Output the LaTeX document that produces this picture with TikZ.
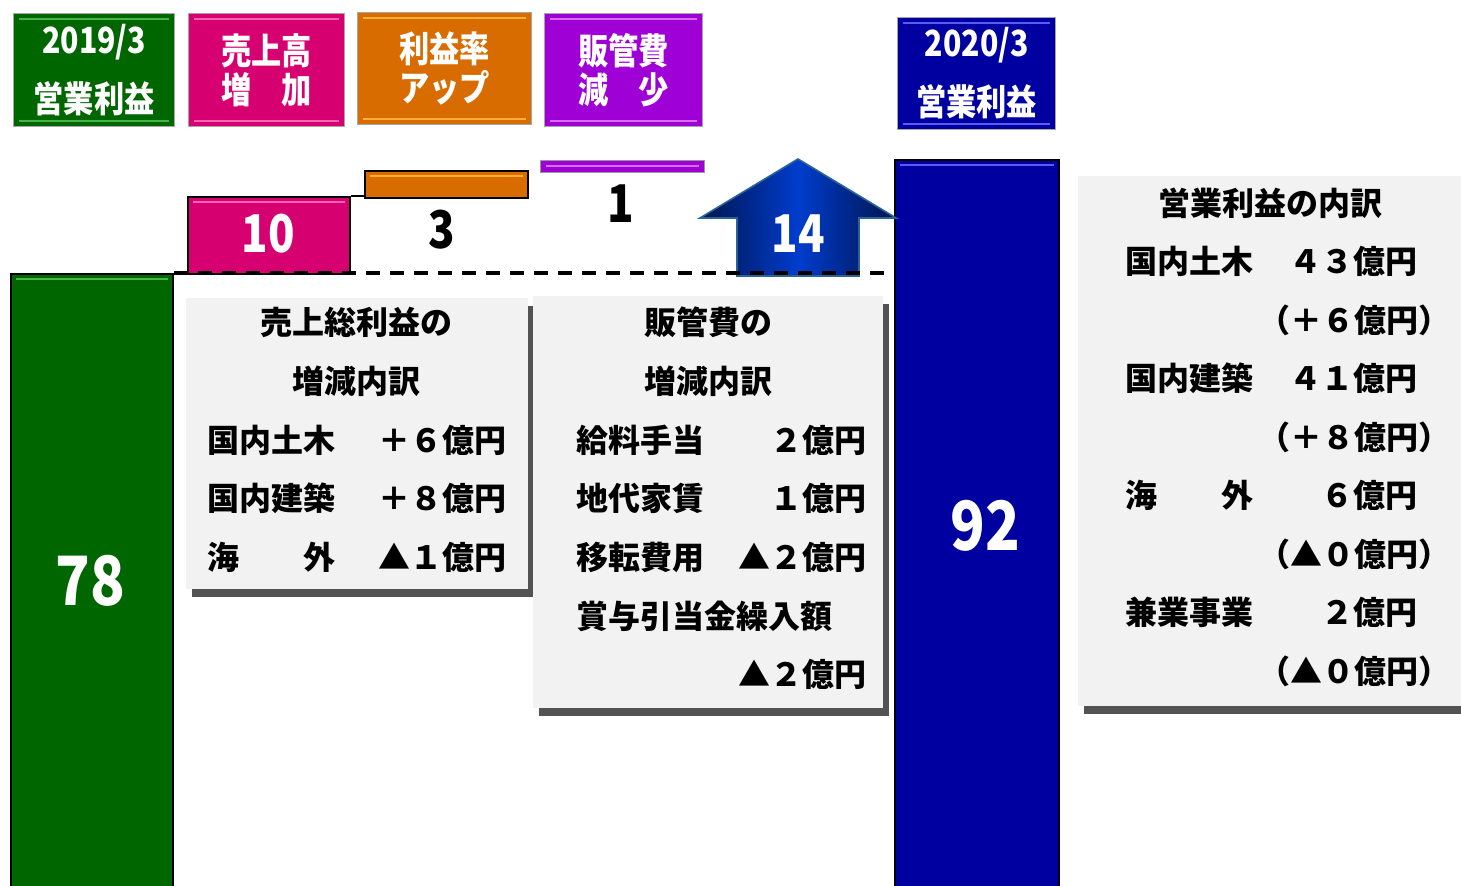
\documentclass[tikz,border=0pt]{standalone}
\usepackage{fontspec}
\setmainfont{Noto Sans CJK JP}
\newfontfamily\narrowjp{Noto Sans CJK JP}[FakeStretch=0.84]
\usetikzlibrary{shadows}

\definecolor{opgreen}{RGB}{0,102,0}
\definecolor{opgreenhi}{RGB}{70,180,70}
\definecolor{salesmag}{RGB}{214,0,112}
\definecolor{salesmaghi}{RGB}{250,100,180}
\definecolor{rateorange}{RGB}{216,108,0}
\definecolor{rateorangehi}{RGB}{255,175,60}
\definecolor{sgapurple}{RGB}{158,0,214}
\definecolor{sgapurplehi}{RGB}{215,110,250}
\definecolor{opblue}{RGB}{0,0,160}
\definecolor{opbluehi}{RGB}{90,90,245}
\definecolor{panelgray}{RGB}{242,242,242}
\definecolor{arrowdark}{RGB}{0,20,75}
\definecolor{arrowmid}{RGB}{0,60,205}
\definecolor{arrowedge}{RGB}{40,100,150}

\begin{document}
\begin{tikzpicture}[x=0.5pt,y=-0.5pt,
    bar/.style={draw=black, line width=1pt, inner sep=0pt, anchor=north west},
    head/.style={draw=black!35, line width=0.6pt, inner sep=0pt, anchor=north west,
                 align=center, text=white, font=\narrowjp\bfseries\fontsize{18}{19.5}\selectfont},
    panel/.style={fill=panelgray, inner sep=0pt, anchor=north west,
                  drop shadow={shadow xshift=3pt, shadow yshift=-4pt, fill=black!75, opacity=.9}},
    cell/.style={inner sep=0pt, text height=12pt, text depth=0pt, font=\bfseries\fontsize{16}{16}\selectfont},
    bignum/.style={inner sep=0pt, text=white, font=\narrowjp\bfseries\fontsize{34}{34}\selectfont},
    midnum/.style={inner sep=0pt, font=\narrowjp\bfseries\fontsize{26}{26}\selectfont},
    levelline/.style={line width=2pt, dash pattern=on 7pt off 5pt}
  ]
  \useasboundingbox (0,0) rectangle (1461,886);

  % headers
  \node[head, fill=opgreen, minimum width=80.5pt, minimum height=56.5pt] (h19) at (13,13) {2019/3\\[10pt]営業利益};
  \node[head, fill=salesmag, minimum width=78pt, minimum height=56.5pt] (hsales) at (188,13) {売上高\\増　加};
  \node[head, fill=rateorange, minimum width=87pt, minimum height=56pt] (hrate) at (357,12) {利益率\\アップ};
  \node[head, fill=sgapurple, minimum width=79pt, minimum height=56.5pt] (hsga) at (544,13) {販管費\\減　少};
  \node[head, fill=opblue, minimum width=79pt, minimum height=56pt] (h20) at (897,17) {2020/3\\[10pt]営業利益};

  % breakdown panels
  \node[panel, minimum width=171pt, minimum height=145.5pt] (p1) at (186,298) {};
  \node[panel, minimum width=175pt, minimum height=206pt] (p2) at (533,296) {};
  \node[panel, minimum width=200pt, minimum height=265pt] (p3) at (1078,176) {};

  % bars
  \node[bar, fill=opgreen, minimum width=81pt, minimum height=313.5pt] (bar78) at (10,273) {};
  \node[bar, fill=salesmag, minimum width=81pt, minimum height=38.5pt] (bar10) at (187,196) {};
  \node[bar, fill=rateorange, minimum width=81.5pt, minimum height=13.5pt] (bar3) at (364,170) {};
  \node[bar, draw=black!40, line width=0.5pt, fill=sgapurple, minimum width=82pt, minimum height=6pt] (bar1) at (540,160) {};
  \node[bar, fill=opblue, minimum width=82pt, minimum height=370.5pt] (bar92) at (894,159) {};

  \foreach \n/\c in {h19/opgreenhi, hsales/salesmaghi, hrate/rateorangehi, hsga/sgapurplehi, h20/opbluehi,
                     bar78/opgreenhi, bar10/salesmaghi, bar3/rateorangehi, bar92/opbluehi}
    \draw[\c, line width=1.2pt] ([xshift=3pt,yshift=-3pt]\n.north west) -- ([xshift=-3pt,yshift=-3pt]\n.north east);
  \foreach \n/\c in {h19/opgreenhi, hsales/salesmaghi, hrate/rateorangehi, hsga/sgapurplehi, h20/opbluehi}
    \draw[\c, line width=1.2pt] ([xshift=3pt,yshift=3pt]\n.south west) -- ([xshift=-3pt,yshift=3pt]\n.south east);
  \draw[sgapurplehi, line width=1pt] ([xshift=3pt]bar1.west) -- ([xshift=-3pt]bar1.east);

  % arrow
  \coordinate (tip) at (798,159);
  \draw[arrowedge, line width=0.8pt, left color=arrowdark, right color=arrowdark, middle color=arrowmid]
    (737,276) -- (737,218) -- (700,218) -- (tip) -- (896,218) -- (859,218) -- (859,276) -- cycle;

  % level lines
  \draw[levelline] (bar78.north east) -- (bar78.north east -| bar92.west);
  \draw[line width=1pt] (bar10.north east) -- (bar10.north east -| bar3.west);

  % values
  \node[bignum] (v78) at (90,581) {78};
  \node[midnum, text=white] (v10) at (268,234) {10};
  \node[midnum] (v3) at (442,230) {3};
  \node[midnum] (v1) at (621,204) {1};
  \node[midnum, text=white] (v14) at (798,234) {14};
  \node[bignum] (v92) at (985,526) {92};

  % panel texts
  \node[cell] (t1a) at (356,323) {売上総利益の};
  \node[cell] (t1b) at (356,382) {増減内訳};
  \foreach \y/\l/\r [count=\k] in {441/国内土木/＋６億円, 499/国内建築/＋８億円, 558/海　　外/▲１億円} {
    \node[cell, anchor=west] (pa\k) at (207,\y) {\l};
    \node[cell, anchor=east] (pb\k) at (507,\y) {\r};
  }

  \node[cell] (t2a) at (708,323) {販管費の};
  \node[cell] (t2b) at (708,382) {増減内訳};
  \foreach \y/\l/\r [count=\k] in {441/給料手当/２億円, 499/地代家賃/１億円, 558/移転費用/▲２億円} {
    \node[cell, anchor=west] (qa\k) at (576,\y) {\l};
    \node[cell, anchor=east] (qb\k) at (867,\y) {\r};
  }
  \node[cell, anchor=west] (qa4) at (576,617) {賞与引当金繰入額};
  \node[cell, anchor=east] (qb4) at (867,675) {▲２億円};

  \node[cell] (t3a) at (1270,204) {営業利益の内訳};
  \foreach \y/\l/\r/\d [count=\k] in {262/国内土木/４３億円/（＋６億円）, 379/国内建築/４１億円/（＋８億円）,
                                      496/海　　外/６億円/（▲０億円）, 613/兼業事業/２億円/（▲０億円）} {
    \node[cell, anchor=west] (ra\k) at (1125,\y) {\l};
    \node[cell, anchor=east] (rb\k) at (1418,\y) {\r};
    \node[cell, anchor=east] (rc\k) at (1451,\y+58.5) {\d};
  }
\end{tikzpicture}
\end{document}
